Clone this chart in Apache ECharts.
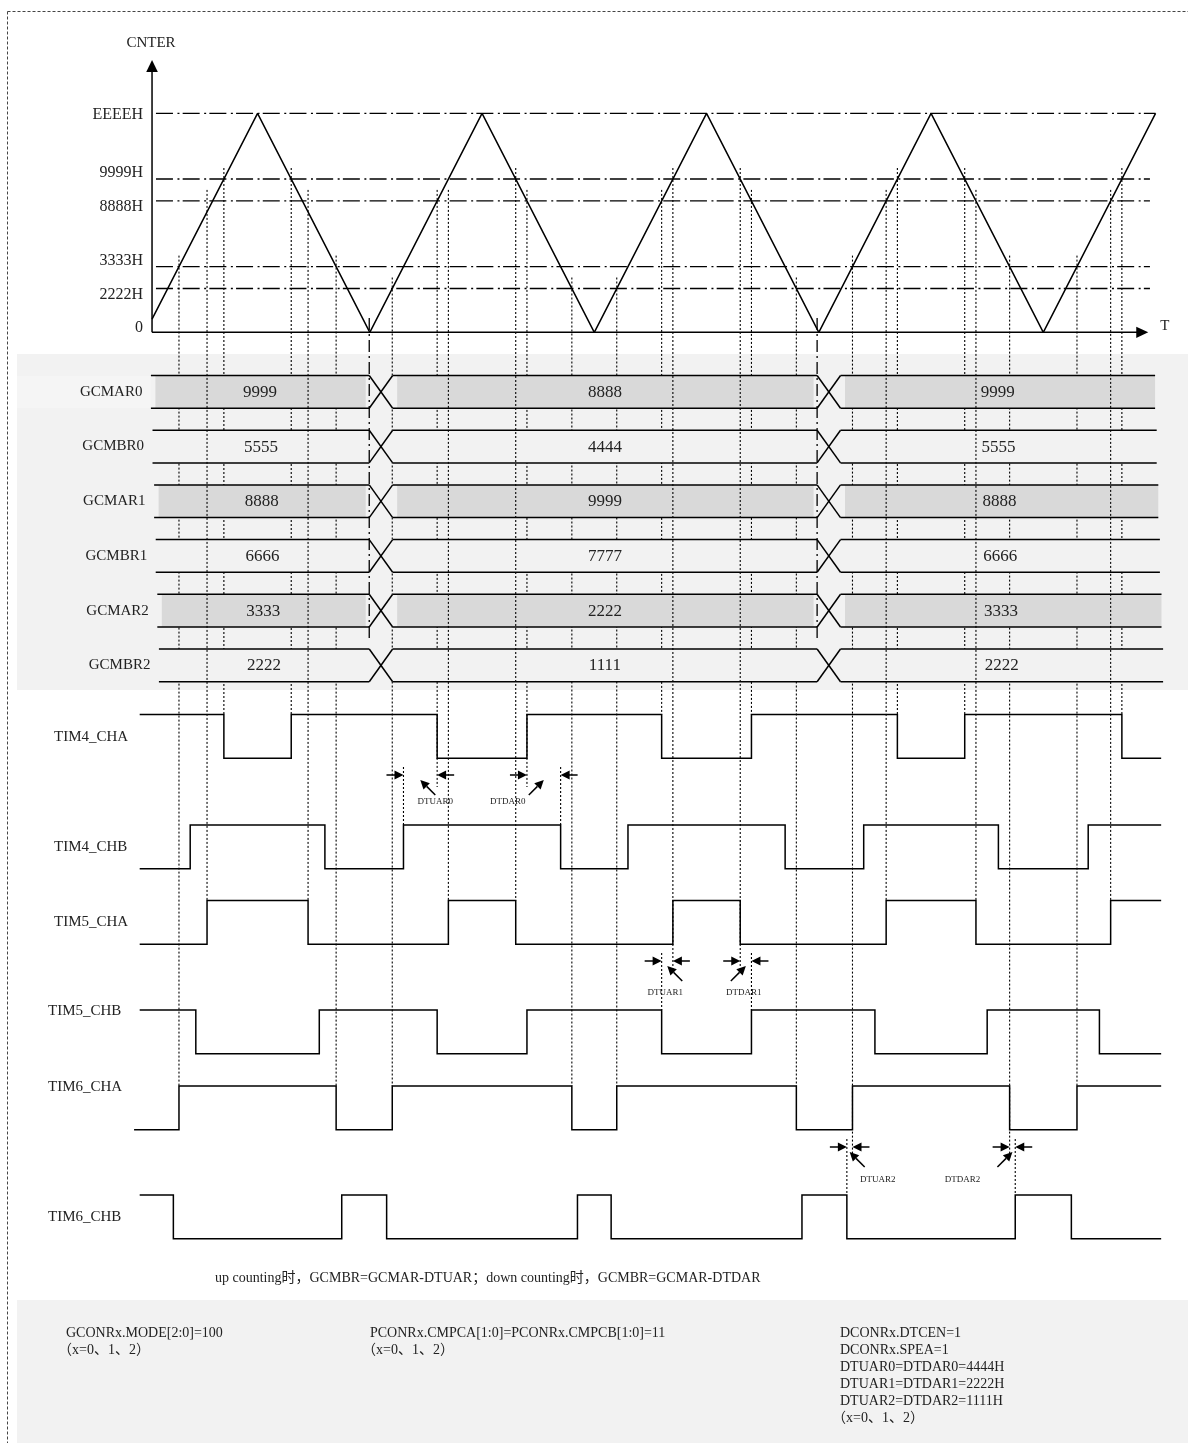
<!DOCTYPE html>
<html>
<head>
<meta charset="utf-8">
<title>GCMAR / GCMBR dead-time timing</title>
<script src="https://cdn.jsdelivr.net/npm/echarts@6/dist/echarts.min.js"></script>
<style>
  html, body { margin: 0; padding: 0; background: #fff; }
  #chart { width: 1188px; height: 1443px; }
</style>
</head>
<body>
<div id="chart"></div>
<script>
// ---- values (time in counter steps, one ramp = 100) ----
const counterTimes  = [6, 100, 200, 300, 400, 500, 600, 700, 800, 900];
const counterLevels = [6, 100, 0, 100, 0, 100, 0, 100, 0, 100];

const levelNames  = ['0', '2222H', '3333H', '8888H', '9999H', 'EEEEH'];
const levelValues = [0, 20, 30, 60, 70, 100];

const regNames  = ['GCMAR0', 'GCMBR0', 'GCMAR1', 'GCMBR1', 'GCMAR2', 'GCMBR2'];
const regValues = [
  ['9999', '8888', '9999'],
  ['5555', '4444', '5555'],
  ['8888', '9999', '8888'],
  ['6666', '7777', '6666'],
  ['3333', '2222', '3333'],
  ['2222', '1111', '2222']
];
const regSwitchTimes = [199.5, 598.5];

const waveNames = ['TIM4_CHA', 'TIM4_CHB', 'TIM5_CHA', 'TIM5_CHB', 'TIM6_CHA', 'TIM6_CHB'];
const waveInit  = [1, 0, 0, 1, 0, 1];
const waveEdges = [
  [70, 130, 260, 340, 460, 540, 670, 730, 870],
  [40, 160, 230, 370, 430, 570, 640, 760, 840],
  [55, 145, 270, 330, 470, 530, 660, 740, 860],
  [45, 155, 260, 340, 460, 540, 650, 750, 850],
  [30, 170, 220, 380, 420, 580, 630, 770, 830],
  [25, 175, 215, 385, 415, 585, 625, 775, 825]
];
const waveStartT = [-5, -5, -5, -5, -10, -5];
const waveEndT = 905;

// compare-match guide lines: time, level they start from, waveform they run down to
const guideTimes     = [30, 55, 70, 130, 145, 170, 220, 260, 270, 330, 340, 380, 420, 460, 470, 530, 540, 580, 630, 660, 670, 730, 740, 770, 830, 860, 870];
const guideFromLevel = [30, 60, 70, 70, 60, 30, 20, 60, 60, 70, 60, 20, 20, 60, 70, 70, 60, 20, 30, 60, 70, 70, 60, 30, 30, 60, 70];
const guideToWave    = [4, 2, 0, 0, 2, 4, 4, 0, 2, 2, 0, 4, 4, 0, 2, 2, 0, 4, 4, 2, 0, 0, 2, 4, 4, 2, 0];

// dead-time annotations
const dtNames  = ['DTUAR0', 'DTDAR0', 'DTUAR1', 'DTDAR1', 'DTUAR2', 'DTDAR2'];
const dtLeftT  = [230, 340, 460, 530, 625, 770];
const dtRightT = [260, 370, 470, 540, 630, 775];

const notes = [
  ['GCONRx.MODE[2:0]=100', '（x=0、1、2）'],
  ['PCONRx.CMPCA[1:0]=PCONRx.CMPCB[1:0]=11', '（x=0、1、2）'],
  ['DCONRx.DTCEN=1', 'DCONRx.SPEA=1', 'DTUAR0=DTDAR0=4444H', 'DTUAR1=DTDAR1=2222H', 'DTUAR2=DTDAR2=1111H', '（x=0、1、2）']
];
const formulaText = 'up counting时，GCMBR=GCMAR-DTUAR；down counting时，GCMBR=GCMAR-DTDAR';

// ---- layout ----
const W = 1188, H = 1443;
const T_X0 = 145.3, T_PX = 1.1225;           // x = T_X0 + T_PX * t
const CNT_ZERO_Y = 332.3, CNT_FULL_Y = 113.3; // counter 0 and 100
const LEVEL_PX = (CNT_ZERO_Y - CNT_FULL_Y) / 100;
const ROW_TOP0 = 375.5, ROW_STEP = 54.7, ROW_H = 32.7, ROW_SLANT = 1.6, X_W = 23.4;
const ROW_START_T = 5, ROW_END_T = 899.6;
const WAVE_HIGH = [714.5, 825, 900.5, 1010, 1086, 1195];
const WAVE_AMP = 43.7;
const WAVE_LABEL_X = [54, 54, 54, 48, 48, 48];
const WAVE_LABEL_Y = [737, 847, 922, 1011, 1087, 1217];
const DT_ROW_Y = [775, 961, 1147];
const DT_LABEL_DY = [27, 32, 33];
const DT_LABEL_DX = [15, -36, -2, -2, 28, -50];
const LEVEL_LABEL_DY = [-5, 6, -6, 6, -6, 1];

const FONT = "'Liberation Serif', 'Noto Sans CJK SC', serif";
const INK = '#000';
const TXT = '#222';
const DOTS = [2, 2];

const levelRow = L => CNT_ZERO_Y - L * LEVEL_PX;

function text(x, y, str, size, align) {
  return { type: 'text', style: { x, y, text: str, fill: TXT, font: size + 'px ' + FONT, align: align || 'center', verticalAlign: 'middle' } };
}
function seg(x1, y1, x2, y2, w, dash) {
  return { type: 'line', shape: { x1, y1, x2, y2 }, style: { stroke: INK, lineWidth: w || 1.5, lineDash: dash || null } };
}
function tri(pts) {
  return { type: 'polygon', shape: { points: pts }, style: { fill: INK } };
}

const chart = echarts.init(document.getElementById('chart'));

// counter axes, level lines and labels (drawn on the counter axis)
function renderCounterFrame(params, api) {
  const o = api.coord([6, 0]);
  const top = 60, xEnd = api.coord([893.5, 0])[0];
  const ch = [
    seg(o[0], o[1], o[0], top + 10, 1.5),
    tri([[o[0], top], [o[0] - 5.8, top + 12], [o[0] + 5.8, top + 12]]),
    seg(o[0], o[1], xEnd - 10, o[1], 1.5),
    tri([[xEnd, o[1]], [xEnd - 12, o[1] - 5.6], [xEnd - 12, o[1] + 5.6]]),
    text(o[0] - 1, 43, 'CNTER', 15),
    text(xEnd + 12, o[1] - 6, 'T', 15, 'left')
  ];
  levelValues.forEach((v, i) => {
    const p = api.coord([6, v]);
    ch.push(text(p[0] - 9, p[1] + LEVEL_LABEL_DY[i], levelNames[i], 16, 'right'));
    if (v > 0) {
      const a = api.coord([9.5, v]), b = api.coord([v === 100 ? 900 : 895, v]);
      ch.push(seg(a[0], a[1], b[0], b[1], 1.3, [17, 4.5, 2, 3.2]));
    }
  });
  return { type: 'group', children: ch };
}

function renderGuide(params, api) {
  const k = api.value(1);
  const t = guideTimes[k];
  const x = api.coord([t, 0])[0];
  const yTop = api.coord([t, levelRow(guideFromLevel[k]) - 11])[1];
  let bottom = WAVE_HIGH[guideToWave[k]];
  dtNames.forEach((n, a) => {
    const longT = a % 2 === 0 ? dtRightT[a] : dtLeftT[a];
    if (longT === t) bottom = DT_ROW_Y[Math.floor(a / 2)] + 12;
  });
  const yBot = api.coord([t, bottom])[1];
  return seg(x, yTop, x, yBot, 1.1, DOTS);
}

function renderRow(params, api) {
  const i = api.value(1);
  const top = ROW_TOP0 + i * ROW_STEP, bot = top + ROW_H;
  const sh = i * ROW_SLANT;
  const x0 = api.coord([ROW_START_T, 0])[0] + sh;
  const x1 = api.coord([ROW_END_T, 0])[0] + sh;
  const sw = regSwitchTimes.map(t => api.coord([t, 0])[0]);
  const segs = [[x0, sw[0]], [sw[0] + X_W, sw[1]], [sw[1] + X_W, x1]];
  const isA = i % 2 === 0;
  const ch = [{ type: 'rect', shape: { x: x0, y: top, width: x1 - x0, height: ROW_H }, style: { fill: '#f2f2f2' } }];
  segs.forEach((s, k) => {
    if (isA) {
      const fx0 = s[0] + 4.5, fx1 = k === 2 ? s[1] : s[1] - 3.5;
      ch.push({ type: 'rect', shape: { x: fx0, y: top, width: fx1 - fx0, height: ROW_H }, style: { fill: '#d9d9d9' } });
    }
    ch.push(seg(s[0], top, s[1], top, 1.5), seg(s[0], bot, s[1], bot, 1.5));
    ch.push(text((s[0] + s[1]) / 2, top + ROW_H / 2 + 0.5, regValues[i][k], 17));
  });
  sw.forEach(x => {
    ch.push(seg(x, top, x + X_W, bot, 1.5), seg(x, bot, x + X_W, top, 1.5));
  });
  ch.push(text(x0 - 8.5, top + ROW_H / 2, regNames[i], 15, 'right'));
  return { type: 'group', children: ch };
}

function renderSwitch(params, api) {
  const t = api.value(0);
  const a = api.coord([t, 318]), b = api.coord([t, 640]);
  return seg(a[0], a[1], b[0], b[1], 1.3, [12, 4, 2, 4]);
}

function renderWave(params, api) {
  const i = api.value(1);
  const hi = WAVE_HIGH[i], lo = hi + WAVE_AMP;
  const yOf = v => api.coord([0, v ? hi : lo])[1];
  let lvl = waveInit[i];
  const pts = [[api.coord([waveStartT[i], 0])[0], yOf(lvl)]];
  waveEdges[i].forEach(t => {
    const x = api.coord([t, 0])[0];
    pts.push([x, yOf(lvl)]);
    lvl = 1 - lvl;
    pts.push([x, yOf(lvl)]);
  });
  pts.push([api.coord([waveEndT, 0])[0], yOf(lvl)]);
  return {
    type: 'group',
    children: [
      { type: 'polyline', shape: { points: pts }, style: { stroke: INK, lineWidth: 1.5, fill: 'none' } },
      text(WAVE_LABEL_X[i], WAVE_LABEL_Y[i], waveNames[i], 15, 'left')
    ]
  };
}

function renderDt(params, api) {
  const k = api.value(1);
  const p = Math.floor(k / 2);
  const ay = api.coord([0, DT_ROW_Y[p]])[1];
  const xl = api.coord([dtLeftT[k], 0])[0], xr = api.coord([dtRightT[k], 0])[0];
  const mid = (xl + xr) / 2;
  const up = k % 2 === 0;
  const shortX = up ? xl : xr;
  const hy = ay + 5, ty = ay + 20, tx = up ? mid + 15 : mid - 15;
  // arrow head along the diagonal
  const dx = mid - tx, dy = hy - ty, len = Math.sqrt(dx * dx + dy * dy);
  const ux = dx / len, uy = dy / len;
  const bx = mid - ux * 9, by = hy - uy * 9;
  const ch = [
    seg(xl - 17, ay, xl - 8, ay, 1.5),
    tri([[xl, ay], [xl - 9, ay - 4.5], [xl - 9, ay + 4.5]]),
    seg(xr + 8, ay, xr + 17, ay, 1.5),
    tri([[xr, ay], [xr + 9, ay - 4.5], [xr + 9, ay + 4.5]]),
    seg(shortX, ay - 8, shortX, api.coord([0, WAVE_HIGH[2 * p + 1]])[1], 1.1, DOTS),
    seg(tx, ty, bx, by, 1.5),
    tri([[mid, hy], [bx - uy * 4.5, by + ux * 4.5], [bx + uy * 4.5, by - ux * 4.5]]),
    text(mid + DT_LABEL_DX[k], ay + DT_LABEL_DY[p], dtNames[k], 9)
  ];
  return { type: 'group', children: ch };
}

const lowGuides = [], highGuides = [];
guideTimes.forEach((t, k) => (guideToWave[k] === 2 ? highGuides : lowGuides).push([t, k]));

const noteX = [66, 370, 840];
const graphics = [
  { type: 'rect', z: -10, shape: { x: 17, y: 354, width: W - 17, height: 336 }, style: { fill: '#f2f2f2' } },
  { type: 'rect', z: -9, shape: { x: 17, y: 376, width: 134, height: 32 }, style: { fill: '#f5f5f5' } },
  { type: 'rect', z: -10, shape: { x: 17, y: 1300, width: W - 17, height: H - 1300 }, style: { fill: '#f2f2f2' } },
  { type: 'line', z: -8, shape: { x1: 7.5, y1: 11.5, x2: W, y2: 11.5 }, style: { stroke: '#444', lineWidth: 1, lineDash: [3, 2] } },
  { type: 'line', z: -8, shape: { x1: 7.5, y1: 11.5, x2: 7.5, y2: H }, style: { stroke: '#444', lineWidth: 1, lineDash: [3, 2] } },
  { type: 'text', z: 10, style: { x: 215, y: 1278, text: formulaText, fill: TXT, font: '14px ' + FONT, verticalAlign: 'middle' } }
];
notes.forEach((col, c) => {
  col.forEach((s, r) => {
    const paren = s.charAt(0) === '（';
    graphics.push({ type: 'text', z: 10, style: { x: noteX[c] - (paren ? 8 : 0), y: 1333 + r * 17, text: s, fill: TXT, font: '14px ' + FONT, verticalAlign: 'middle' } });
  });
});

const cnt = counterTimes.map((t, i) => [t, counterLevels[i]]);

chart.setOption({
  animation: false,
  backgroundColor: '#fff',
  grid: { left: 0, right: 0, top: 0, bottom: 0 },
  xAxis: { type: 'value', min: -T_X0 / T_PX, max: (W - T_X0) / T_PX, show: false },
  yAxis: [
    { type: 'value', min: 0, max: H, inverse: true, show: false },
    { type: 'value', min: -(H - CNT_ZERO_Y) / LEVEL_PX, max: CNT_ZERO_Y / LEVEL_PX, show: false }
  ],
  graphic: graphics,
  series: [
    { type: 'custom', name: 'frame', yAxisIndex: 1, z: 3, silent: true, data: [[6, 0]], renderItem: renderCounterFrame },
    { type: 'custom', name: 'guides', yAxisIndex: 0, z: 4, silent: true, data: lowGuides, renderItem: renderGuide },
    { type: 'custom', name: 'registers', yAxisIndex: 0, z: 5, silent: true, data: regNames.map((n, i) => [0, i]), renderItem: renderRow },
    { type: 'custom', name: 'switch', yAxisIndex: 0, z: 6, silent: true, data: regSwitchTimes.map(t => [t, 0]), renderItem: renderSwitch },
    { type: 'custom', name: 'guides5', yAxisIndex: 0, z: 6, silent: true, data: highGuides, renderItem: renderGuide },
    { type: 'line', name: 'CNTER', yAxisIndex: 1, z: 7, silent: true, data: cnt, symbol: 'none', lineStyle: { color: INK, width: 1.5 } },
    { type: 'custom', name: 'waves', yAxisIndex: 0, z: 7, silent: true, data: waveNames.map((n, i) => [0, i]), renderItem: renderWave },
    { type: 'custom', name: 'deadtime', yAxisIndex: 0, z: 7, silent: true, data: dtNames.map((n, i) => [0, i]), renderItem: renderDt }
  ]
});
</script>
</body>
</html>
